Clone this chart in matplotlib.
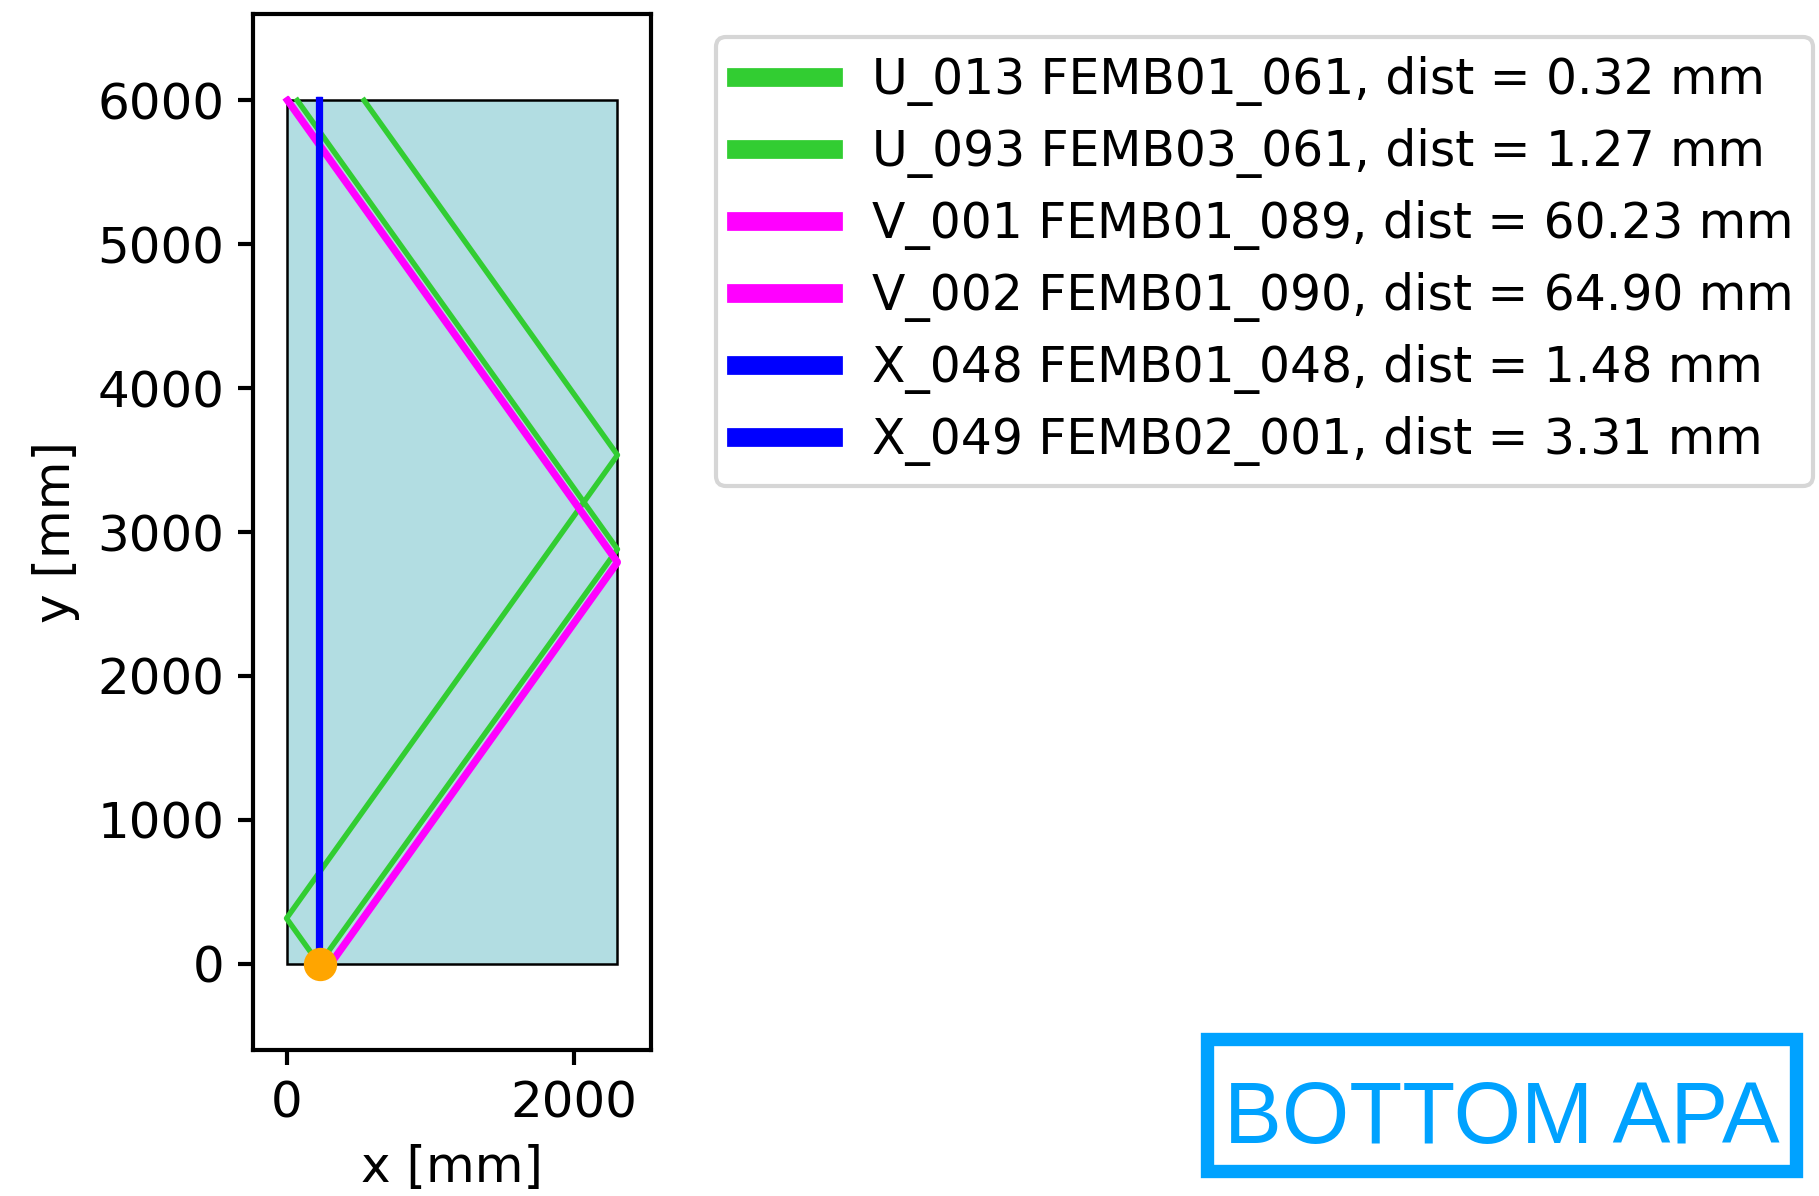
import matplotlib
matplotlib.use("Agg")
import matplotlib.pyplot as plt
from matplotlib.patches import Rectangle
from matplotlib.lines import Line2D

# APA frame (mm)
apa_width = 2300
apa_height = 6000

# point of interest
point_x = 230
point_y = 0

# wire names / colours shown in legend
wire_labels = [
    "U_013 FEMB01_061, dist = 0.32 mm",
    "U_093 FEMB03_061, dist = 1.27 mm",
    "V_001 FEMB01_089, dist = 60.23 mm",
    "V_002 FEMB01_090, dist = 64.90 mm",
    "X_048 FEMB01_048, dist = 1.48 mm",
    "X_049 FEMB02_001, dist = 3.31 mm",
]
wire_colors = ["limegreen", "limegreen", "magenta", "magenta", "blue", "blue"]
wire_lw = [1.3, 1.3, 1.6, 1.6, 1.5, 1.5]

# wire polylines (x, y in mm), wrapping round the frame
u013_x = [75, 2300, 230]
u013_y = [6000, 2880, 0]
u093_x = [539, 2300, 0, 225]
u093_y = [6000, 3535, 315, 0]
v001_x = [10, 2300, 304]
v001_y = [6000, 2794, 0]
v002_x = [4, 2300, 310]
v002_y = [6000, 2786, 0]
x048_x = [228.5, 228.5]
x048_y = [0, 6000]
x049_x = [233.3, 233.3]
x049_y = [0, 6000]

wires_x = [u013_x, u093_x, v001_x, v002_x, x048_x, x049_x]
wires_y = [u013_y, u093_y, v001_y, v002_y, x048_y, x049_y]

fs = 12
W, H = 1819, 1196
fig = plt.figure(figsize=(W / 300, H / 300), dpi=300)
ax = fig.add_axes([253 / W, 146 / H, 398 / W, 1036 / H])

ax.add_patch(Rectangle((0, 0), apa_width, apa_height, facecolor="#b2dde2",
                       edgecolor="black", lw=0.6, zorder=1))

for xs, ys, c, lw in zip(wires_x, wires_y, wire_colors, wire_lw):
    ax.plot(xs, ys, color=c, lw=lw, zorder=2)

ax.plot(point_x, point_y, "o", color="orange", ms=7, zorder=5)

ax.set_xlim(-0.1 * apa_width, 1.1 * apa_width)
ax.set_ylim(-0.1 * apa_height, 1.1 * apa_height)
ax.set_aspect("equal")
ax.set_xticks([0, 2000])
ax.set_yticks([0, 1000, 2000, 3000, 4000, 5000, 6000])
ax.tick_params(labelsize=fs, width=1.0)
for s in ax.spines.values():
    s.set_linewidth(1.0)
ax.set_xlabel("x [mm]", fontsize=fs)
ax.set_ylabel("y [mm]", fontsize=fs)

handles = [Line2D([0], [0], color=c, lw=4.5) for c in wire_colors]
fig.legend(handles, wire_labels, loc="upper left",
           bbox_to_anchor=(716 / W, 1 - 37 / H), fontsize=11.7,
           handlelength=2.0, handletextpad=0.8, labelspacing=0.45,
           borderaxespad=0, frameon=True)

# "BOTTOM APA" tag
box_l, box_r, box_t, box_b = 1207, 1796, 1039, 1171
fig.patches.append(Rectangle((box_l / W, 1 - box_b / H), (box_r - box_l) / W,
                             (box_b - box_t) / H, transform=fig.transFigure,
                             fc="white", ec="#00a2ff", lw=3.2))
fig.text(1502 / W, 1 - 1143 / H, "BOTTOM APA", fontsize=20.8,
         family="Liberation Sans", color="#00a2ff", ha="center",
         va="baseline")

fig.savefig("out.png", dpi=300)
